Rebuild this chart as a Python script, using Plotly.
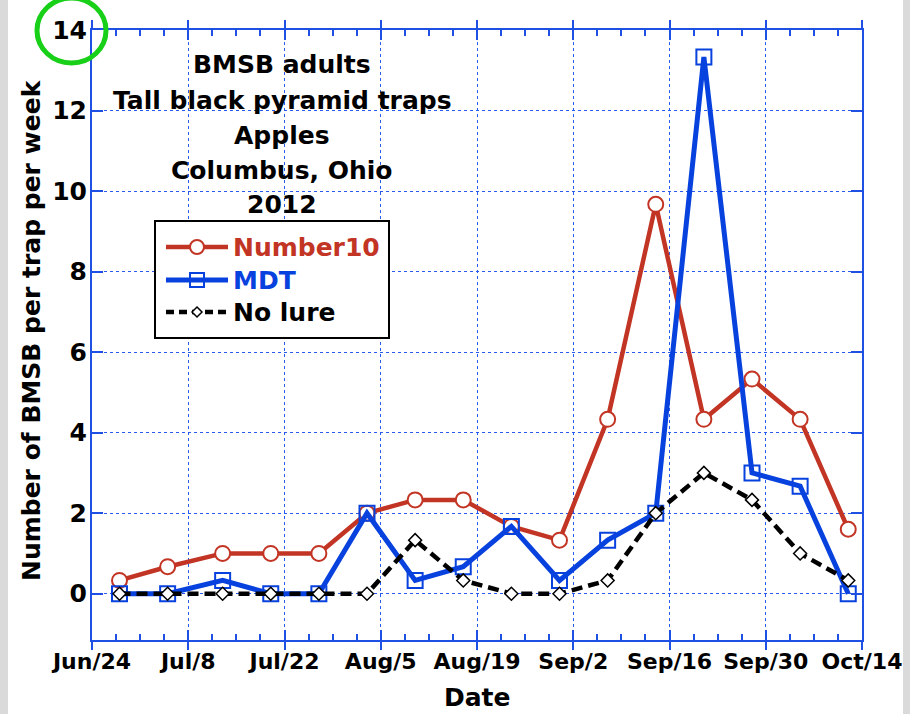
import plotly.graph_objects as go

# ---------------- data ----------------
dates = ['2012-06-28', '2012-07-05', '2012-07-13', '2012-07-20', '2012-07-27',
         '2012-08-03', '2012-08-10', '2012-08-17', '2012-08-24', '2012-08-31',
         '2012-09-07', '2012-09-14', '2012-09-21', '2012-09-28', '2012-10-05',
         '2012-10-12']
number10 = [0.33, 0.67, 1.0, 1.0, 1.0, 2.0, 2.33, 2.33, 1.67, 1.33,
            4.33, 9.67, 4.33, 5.33, 4.33, 1.6]
mdt = [0, 0, 0.33, 0, 0, 2.0, 0.33, 0.67, 1.67, 0.33,
       1.33, 2.0, 13.33, 3.0, 2.67, 0]
no_lure = [0, 0, 0, 0, 0, 0, 1.33, 0.33, 0, 0,
           0.33, 2.0, 3.0, 2.33, 1.0, 0.33]

series_names = ['Number10', 'MDT', 'No lure']
title_lines = ['BMSB adults', 'Tall black pyramid traps', 'Apples',
               'Columbus, Ohio', '2012']
x_title = 'Date'
y_title = 'Number of BMSB per trap per week'

# ---------------- styles ----------------
W, H = 910, 714
ML, MR, MT, MB = 92, 48, 30, 74
FONT = 'DejaVu Sans'
RED = 'rgb(194,52,36)'
BLUE = 'rgb(8,66,222)'
AXBLUE = 'rgb(30,80,228)'
GRIDBLUE = 'rgb(40,90,235)'
DAY = 86400000


def px(x):
    return (x - ML) / (W - ML - MR)


def py(y):
    return (H - MB - y) / (H - MT - MB)


fig = go.Figure()
fig.add_trace(go.Scatter(
    x=dates, y=number10, name=series_names[0], mode='lines+markers',
    line=dict(color=RED, width=4.5),
    marker=dict(symbol='circle', size=15, color='white',
                line=dict(color=RED, width=2)),
    xaxis='x', yaxis='y', showlegend=False))
fig.add_trace(go.Scatter(
    x=dates, y=mdt, name=series_names[1], mode='lines+markers',
    line=dict(color=BLUE, width=5),
    marker=dict(symbol='square-open', size=15, color=BLUE,
                line=dict(color=BLUE, width=2)),
    xaxis='x', yaxis='y', showlegend=False))
fig.add_trace(go.Scatter(
    x=dates, y=no_lure, name=series_names[2], mode='lines+markers',
    line=dict(color='black', width=4.5, dash='11px,6px'),
    marker=dict(symbol='diamond', size=10, color='white',
                line=dict(color='black', width=1.5)),
    xaxis='x2', yaxis='y', showlegend=False))

xtickfont = dict(family=FONT, size=22, color='black', weight='bold')
ytickfont = dict(family=FONT, size=25, color='black', weight='bold')
xrange = ['2012-06-24', '2012-10-14']

fig.update_layout(
    width=W, height=H,
    margin=dict(l=ML, r=MR, t=MT, b=MB, pad=0),
    paper_bgcolor='white', plot_bgcolor='white',
    showlegend=False,
    xaxis=dict(
        type='date', range=xrange, tick0='2012-06-24', dtick=14 * DAY,
        tickformat='%b/%-d', tickfont=xtickfont, ticklabelstandoff=-7,
        showline=True, linecolor=AXBLUE, linewidth=2, mirror='ticks',
        ticks='outside', ticklen=8, tickwidth=2, tickcolor=AXBLUE,
        showgrid=True, gridcolor=GRIDBLUE, griddash='dot', gridwidth=1,
        zeroline=False, automargin=False),
    xaxis2=dict(
        type='date', range=xrange, tick0='2012-06-24', dtick=14 * DAY,
        overlaying='x', side='bottom', showticklabels=False,
        showline=True, linecolor=AXBLUE, linewidth=2, mirror='ticks',
        ticks='inside', ticklen=10, tickwidth=2, tickcolor=AXBLUE,
        minor=dict(ticks='inside', ticklen=6, tickwidth=1.5,
                   tickcolor=AXBLUE, dtick=3.5 * DAY, tick0='2012-06-24'),
        showgrid=False, zeroline=False, automargin=False),
    yaxis=dict(
        range=[-1.15, 14], dtick=2, tick0=0, tickfont=ytickfont,
        ticklabelstandoff=-2,
        showline=True, linecolor=AXBLUE, linewidth=2, mirror='ticks',
        ticks='inside', ticklen=11, tickwidth=2, tickcolor=AXBLUE,
        showgrid=True, gridcolor=GRIDBLUE, griddash='dot', gridwidth=1,
        zeroline=False, automargin=False),
)

shapes = []
annotations = []

# side strips of the screenshot frame
shapes.append(dict(type='rect', xref='paper', yref='paper', layer='below',
                   x0=px(0), x1=px(8), y0=py(H), y1=py(0),
                   fillcolor='rgb(218,218,218)', line=dict(width=0)))
shapes.append(dict(type='rect', xref='paper', yref='paper', layer='below',
                   x0=px(903), x1=px(W), y0=py(H), y1=py(0),
                   fillcolor='rgb(218,218,218)', line=dict(width=0)))

# green highlight circle around "14"
shapes.append(dict(type='circle', xref='paper', yref='paper', layer='above',
                   x0=px(37), x1=px(106), y0=py(63), y1=py(-2),
                   line=dict(color='rgb(24,208,24)', width=5)))

# title block
title_y = [65, 100, 135, 170, 204]
for t, yy in zip(title_lines, title_y):
    annotations.append(dict(text=t, xref='paper', yref='paper',
                            x=px(282), y=py(yy), xanchor='center',
                            yanchor='middle', showarrow=False,
                            font=dict(family=FONT, size=25, color='black',
                                      weight='bold')))

# legend box
shapes.append(dict(type='rect', xref='paper', yref='paper', layer='above',
                   x0=px(155), x1=px(389), y0=py(338), y1=py(221),
                   fillcolor='white', line=dict(color='black', width=2)))
rows = [247, 280, 312]
cols = [RED, BLUE, 'black']
# line keys
shapes.append(dict(type='line', xref='paper', yref='paper', layer='above',
                   x0=px(166), x1=px(228), y0=py(rows[0]), y1=py(rows[0]),
                   line=dict(color=RED, width=4.5)))
shapes.append(dict(type='line', xref='paper', yref='paper', layer='above',
                   x0=px(166), x1=px(228), y0=py(rows[1]), y1=py(rows[1]),
                   line=dict(color=BLUE, width=5)))
shapes.append(dict(type='line', xref='paper', yref='paper', layer='above',
                   x0=px(166), x1=px(228), y0=py(rows[2]), y1=py(rows[2]),
                   line=dict(color='black', width=4.5, dash='8px,5px')))
# marker keys
cx = 197
shapes.append(dict(type='circle', xref='paper', yref='paper', layer='above',
                   x0=px(cx - 7), x1=px(cx + 7), y0=py(rows[0] + 7),
                   y1=py(rows[0] - 7), fillcolor='white',
                   line=dict(color=RED, width=2)))
shapes.append(dict(type='rect', xref='paper', yref='paper', layer='above',
                   x0=px(cx - 7), x1=px(cx + 7), y0=py(rows[1] + 7),
                   y1=py(rows[1] - 7), fillcolor='rgba(0,0,0,0)',
                   line=dict(color=BLUE, width=2)))
d = 5
path = 'M {},{} L {},{} L {},{} L {},{} Z'.format(
    px(cx), py(rows[2] - d), px(cx + d), py(rows[2]),
    px(cx), py(rows[2] + d), px(cx - d), py(rows[2]))
shapes.append(dict(type='path', xref='paper', yref='paper', layer='above',
                   path=path, fillcolor='white',
                   line=dict(color='black', width=1.5)))
for name, col, yy in zip(series_names, cols, rows):
    annotations.append(dict(text=name, xref='paper', yref='paper',
                            x=px(231), y=py(yy), xanchor='left',
                            yanchor='middle', showarrow=False,
                            font=dict(family=FONT, size=25, color=col,
                                      weight='bold')))

# axis titles
annotations.append(dict(text=x_title, xref='paper', yref='paper',
                        x=px(477), y=py(697), xanchor='center',
                        yanchor='middle', showarrow=False,
                        font=dict(family=FONT, size=25, color='black',
                                  weight='bold')))
annotations.append(dict(text=y_title, xref='paper', yref='paper',
                        x=px(31), y=py(330), xanchor='center',
                        yanchor='middle', showarrow=False, textangle=-90,
                        font=dict(family=FONT, size=25, color='black',
                                  weight='bold')))

fig.update_layout(shapes=shapes, annotations=annotations)
fig.write_html('out.html',
               config={'displayModeBar': False},
               post_script="document.body.style.margin='0';"
                           "document.body.style.overflow='hidden';")
